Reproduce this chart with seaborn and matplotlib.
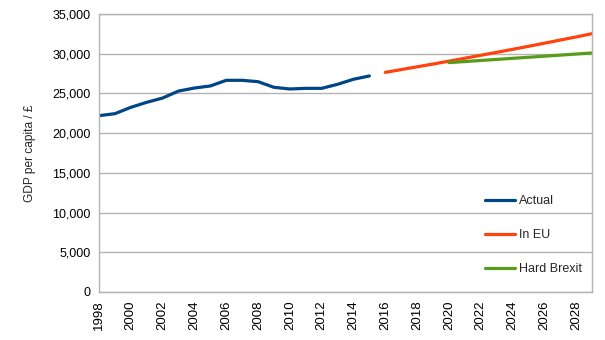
import matplotlib
matplotlib.use("Agg")
import matplotlib.pyplot as plt
import seaborn as sns
import pandas as pd
from matplotlib.ticker import MultipleLocator, FuncFormatter

actual_years = list(range(1998, 2016))
actual_vals = [22200, 22450, 23250, 23880, 24420, 25300, 25680, 25940, 26650,
               26650, 26480, 25770, 25560, 25640, 25640, 26150, 26780, 27200]
ineu_years = list(range(2016, 2030))
ineu_vals = [27650, 28000, 28350, 28700, 29060, 29430, 29800, 30170, 30550,
             30930, 31320, 31720, 32110, 32520]
brexit_years = list(range(2020, 2030))
brexit_vals = [28880, 29010, 29150, 29280, 29420, 29550, 29690, 29820, 29960, 30090]
series_names = ["Actual", "In EU", "Hard Brexit"]
colors = ["#004586", "#ff420e", "#579d1c"]

df = pd.concat([
    pd.DataFrame({"year": actual_years, "gdp": actual_vals, "series": series_names[0]}),
    pd.DataFrame({"year": ineu_years, "gdp": ineu_vals, "series": series_names[1]}),
    pd.DataFrame({"year": brexit_years, "gdp": brexit_vals, "series": series_names[2]}),
])

sns.set_style("white")
plt.rcParams["font.family"] = ["Liberation Sans", "DejaVu Sans"]

fig = plt.figure(figsize=(6.05, 3.4), dpi=100)
ax = fig.add_axes([99/605, 1-292/340, 493/605, 278/340])

sns.lineplot(data=df, x="year", y="gdp", hue="series", hue_order=series_names,
             palette=colors, linewidth=2.3, ax=ax, legend=True)

grid_c = "#b3b3b3"
ax.set_xlim(1998, 2029)
ax.set_ylim(0, 35000)
ax.yaxis.set_major_locator(MultipleLocator(5000))
ax.yaxis.set_major_formatter(FuncFormatter(lambda v, p: f"{int(v):,}"))
ax.xaxis.set_major_locator(MultipleLocator(2))
ax.xaxis.set_minor_locator(MultipleLocator(1))
ax.xaxis.set_major_formatter(FuncFormatter(lambda v, p: f"{int(v)}"))
ax.grid(axis="y", color=grid_c, linewidth=1)
ax.set_axisbelow(True)
for s in ax.spines.values():
    s.set_color(grid_c)
    s.set_linewidth(1)
ax.tick_params(axis="both", which="both", direction="out", color=grid_c,
               length=4, width=1, labelsize=9, labelcolor="black", pad=2)
ax.tick_params(axis="x", which="major", labelrotation=90, labelsize=9.5)
ax.set_xlabel("")
ax.set_ylabel("GDP per capita / £", fontsize=8.6, labelpad=12)

leg = ax.legend(loc="center left", bbox_to_anchor=(0.783, 0.205), frameon=False,
                handlelength=2.4, handletextpad=0.35, labelspacing=1.75,
                borderpad=0, borderaxespad=0, fontsize=9)
for line in leg.get_lines():
    line.set_linewidth(2.3)

fig.savefig("out.png", dpi=100)
